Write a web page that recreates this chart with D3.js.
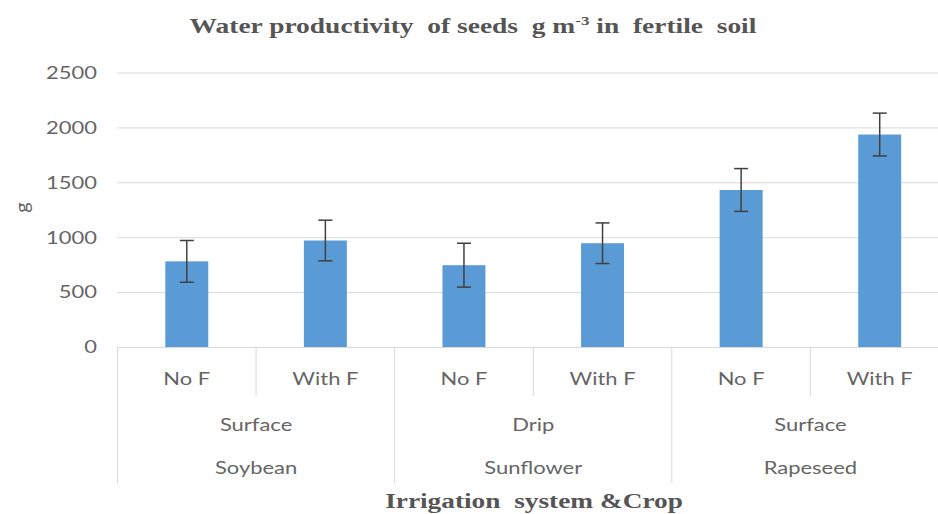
<!DOCTYPE html>
<html lang="en">
<head>
    <meta charset="UTF-8">
    <title>Water productivity of seeds</title>
    <script src="https://d3js.org/d3.v7.min.js"></script>
    <style>
        body { margin: 0; background: #fff; }
        .lab { font-family: Lato, "Open Sans", sans-serif; fill: #656565; }
        .ttl { font-family: "Liberation Serif", "Times New Roman", serif; font-weight: bold; fill: #555; white-space: pre; }
    </style>
</head>
<body>
    <svg id="chart"></svg>
    <script>
        // chart data
        const treatments = ["No F", "With F", "No F", "With F", "No F", "With F"];
        const irrigation = ["Surface", "Drip", "Surface"];
        const crops = ["Soybean", "Sunflower", "Rapeseed"];
        const values = [780, 970, 745, 945, 1430, 1935];
        const errors = [190, 185, 200, 185, 195, 195];
        const yTicks = [0, 500, 1000, 1500, 2000, 2500];

        const W = 938, H = 514;
        const stretch = 1.22; // labels in the picture are drawn wide

        const svg = d3.select("#chart").attr("width", W).attr("height", H);

        const x = d3.scaleBand()
            .domain(d3.range(values.length))
            .range([117.5, 949])
            .paddingInner(0.69)
            .paddingOuter(0.345);

        const y = d3.scaleLinear()
            .domain([0, 2500])
            .range([347, 72.5]);

        // gridlines
        const grid = svg.append("g")
            .attr("transform", "translate(117.5,0)")
            .call(d3.axisLeft(y).tickValues(yTicks).tickSize(-(W - 117.5)).tickFormat(""));
        grid.select(".domain").remove();
        grid.selectAll("line").attr("stroke", "#d9d9d9");

        // y tick labels
        svg.selectAll(".ytick")
            .data(yTicks)
            .enter().append("text")
            .attr("class", "lab")
            .attr("text-anchor", "end")
            .attr("dy", "0.35em")
            .attr("font-size", 18)
            .attr("transform", d => "translate(97," + y(d) + ") scale(" + stretch + ",1)")
            .text(d => d);

        // y axis title
        svg.append("text")
            .attr("class", "lab")
            .attr("font-size", 20)
            .attr("text-anchor", "middle")
            .attr("transform", "translate(29," + y(1270) + ") rotate(-90)")
            .text("g");

        // bars
        svg.selectAll(".bar")
            .data(values)
            .enter().append("rect")
            .attr("fill", "#5b9bd5")
            .attr("x", (d, i) => x(i))
            .attr("width", x.bandwidth())
            .attr("y", d => y(d))
            .attr("height", d => y(0) - y(d));

        // error bars
        const eb = svg.selectAll(".err")
            .data(values)
            .enter().append("g")
            .attr("stroke", "#404040")
            .attr("stroke-width", 1.5);
        eb.append("line")
            .attr("x1", (d, i) => x(i) + x.bandwidth() / 2)
            .attr("x2", (d, i) => x(i) + x.bandwidth() / 2)
            .attr("y1", (d, i) => y(d - errors[i]))
            .attr("y2", (d, i) => y(d + errors[i]));
        eb.append("line")
            .attr("x1", (d, i) => x(i) + x.bandwidth() / 2 - 7)
            .attr("x2", (d, i) => x(i) + x.bandwidth() / 2 + 7)
            .attr("y1", (d, i) => y(d + errors[i]))
            .attr("y2", (d, i) => y(d + errors[i]));
        eb.append("line")
            .attr("x1", (d, i) => x(i) + x.bandwidth() / 2 - 7)
            .attr("x2", (d, i) => x(i) + x.bandwidth() / 2 + 7)
            .attr("y1", (d, i) => y(d - errors[i]))
            .attr("y2", (d, i) => y(d - errors[i]));

        // category separators
        const x0 = x.range()[0];
        const step = x.step();
        svg.selectAll(".sep")
            .data(d3.range(values.length + 1))
            .enter().append("line")
            .attr("stroke", "#d9d9d9")
            .attr("x1", i => x0 + i * step)
            .attr("x2", i => x0 + i * step)
            .attr("y1", y(0))
            .attr("y2", i => i % 2 === 0 ? 483 : 396);

        // category labels (three levels)
        svg.selectAll(".t1")
            .data(treatments)
            .enter().append("text")
            .attr("class", "lab")
            .attr("font-size", 18)
            .attr("text-anchor", "middle")
            .attr("transform", (d, i) => "translate(" + (x(i) + x.bandwidth() / 2) + ",385) scale(" + stretch + ",1)")
            .text(d => d);

        svg.selectAll(".t2")
            .data(irrigation)
            .enter().append("text")
            .attr("class", "lab")
            .attr("font-size", 18)
            .attr("text-anchor", "middle")
            .attr("transform", (d, i) => "translate(" + (x0 + (2 * i + 1) * step) + ",431) scale(" + stretch + ",1)")
            .text(d => d);

        svg.selectAll(".t3")
            .data(crops)
            .enter().append("text")
            .attr("class", "lab")
            .attr("font-size", 18)
            .attr("text-anchor", "middle")
            .attr("transform", (d, i) => "translate(" + (x0 + (2 * i + 1) * step) + ",474) scale(" + stretch + ",1)")
            .text(d => d);

        // titles, stretched to the width seen in the picture
        function fitText(sel, cx, cy, target) {
            const w = sel.node().getComputedTextLength();
            sel.attr("transform", "translate(" + cx + "," + cy + ") scale(" + (target / w) + ",1)");
        }

        const title = svg.append("text")
            .attr("class", "ttl")
            .attr("font-size", 21)
            .attr("text-anchor", "middle");
        title.append("tspan").text("Water productivity  of seeds  g m");
        title.append("tspan").attr("font-size", 13).attr("dy", -8).text("-3");
        title.append("tspan").attr("dy", 8).text(" in  fertile  soil");
        fitText(title, 473, 33, 567);

        const xTitle = svg.append("text")
            .attr("class", "ttl")
            .attr("font-size", 20)
            .attr("text-anchor", "middle")
            .text("Irrigation  system &Crop");
        fitText(xTitle, 534, 508, 298);
    </script>
</body>
</html>
